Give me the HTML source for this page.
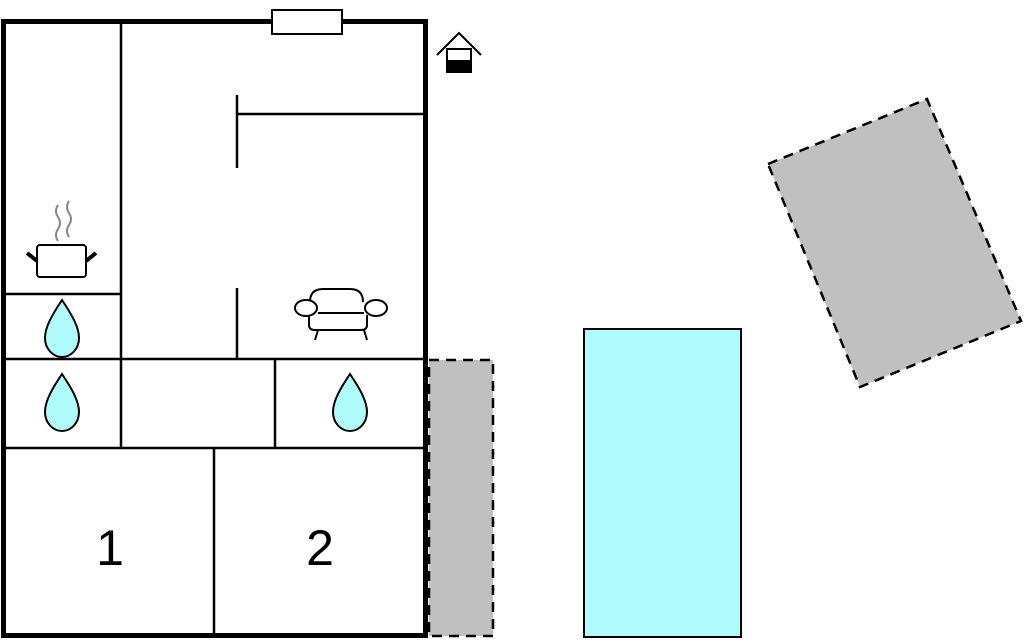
<!DOCTYPE html>
<html><head><meta charset="utf-8"><style>
html,body{margin:0;padding:0;background:#fff;width:1024px;height:640px;overflow:hidden}
svg{display:block}
</style></head><body>
<svg width="1024" height="640" viewBox="0 0 1024 640" xmlns="http://www.w3.org/2000/svg">
<!-- outside shapes -->
<rect x="429" y="360" width="64" height="276" fill="#c0c0c0" stroke="#000" stroke-width="2.5" stroke-dasharray="10,7"/>
<rect x="584" y="329" width="157" height="308" fill="#b0fcfc" stroke="#000" stroke-width="2"/>
<polygon points="768,164 927,99 1021,321 860,387" fill="#c0c0c0" stroke="#000" stroke-width="2.5" stroke-dasharray="10,7"/>
<!-- interior walls -->
<g stroke="#000" stroke-width="2.5" fill="none">
<line x1="121" y1="21" x2="121" y2="448"/>
<line x1="3" y1="294" x2="121" y2="294"/>
<line x1="3" y1="359" x2="426" y2="359"/>
<line x1="3" y1="448" x2="426" y2="448"/>
<line x1="275" y1="359" x2="275" y2="448"/>
<line x1="214" y1="448" x2="214" y2="637"/>
<line x1="237" y1="95" x2="237" y2="168"/>
<line x1="237" y1="288" x2="237" y2="359"/>
<line x1="237" y1="114" x2="426" y2="114"/>
</g>
<!-- outer wall -->
<rect x="3.5" y="21.5" width="422" height="614" fill="none" stroke="#000" stroke-width="5"/>
<rect x="272" y="10" width="70" height="24" fill="#fff" stroke="#000" stroke-width="2"/>
<!-- house icon -->
<polyline points="437,55 459,33 481,55" fill="none" stroke="#000" stroke-width="2"/>
<rect x="447" y="49" width="24" height="23" fill="#fff" stroke="#000" stroke-width="2"/>
<rect x="447" y="60" width="24" height="12" fill="#000"/>
<!-- pot -->
<path d="M58,205 q-4,6 0,12 q4,6 0,12 q-4,6 0,12 M69,201 q-4,6 0,12 q4,6 0,12 q-4,6 0,12" fill="none" stroke="#888" stroke-width="2"/>
<rect x="37" y="245" width="49" height="32" rx="3" fill="#fff" stroke="#000" stroke-width="2"/>
<line x1="27" y1="253" x2="37" y2="261" stroke="#000" stroke-width="4"/>
<line x1="86" y1="261" x2="96" y2="253" stroke="#000" stroke-width="4"/>
<!-- drops -->
<g fill="#b0fcfc" stroke="#000" stroke-width="2">
<path d="M62,300 C52,315 45,327 45,338 C45,349 53,357 62,357 C71,357 79,349 79,338 C79,327 72,315 62,300Z"/>
<path d="M62,374 C52,389 45,401 45,412 C45,423 53,431 62,431 C71,431 79,423 79,412 C79,401 72,389 62,374Z"/>
<path d="M350,374 C340,389 333,401 333,412 C333,423 341,431 350,431 C359,431 367,423 367,412 C367,401 360,389 350,374Z"/>
</g>
<!-- sofa -->
<g fill="#fff" stroke="#000" stroke-width="2">
<path d="M310,302 q0,-13 13,-13 h27 q13,0 13,13"/>
<path d="M309,315 v10 q0,5 6,5 h46 q6,0 6,-5 v-10"/>
<line x1="318" y1="330" x2="315" y2="340"/>
<line x1="364" y1="330" x2="367" y2="340"/>
<line x1="318" y1="313" x2="364" y2="313"/>
<ellipse cx="306" cy="308" rx="11" ry="8"/>
<ellipse cx="376" cy="308" rx="11" ry="8"/>
</g>
<!-- labels -->
<text x="110" y="565" font-family="Liberation Sans, sans-serif" font-size="50" text-anchor="middle">1</text>
<text x="320" y="565" font-family="Liberation Sans, sans-serif" font-size="50" text-anchor="middle">2</text>
</svg>
</body></html>
